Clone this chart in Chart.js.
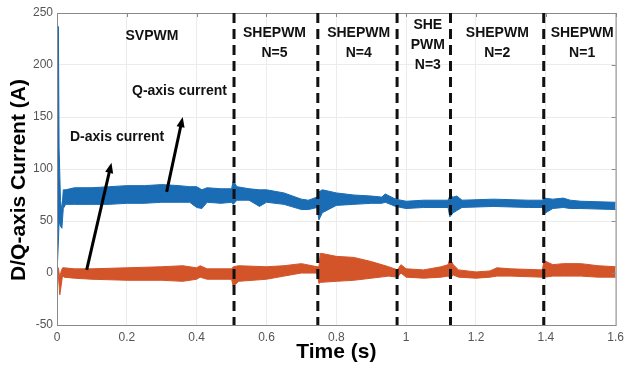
<!DOCTYPE html>
<html>
<head>
<meta charset="utf-8">
<script src="https://cdn.jsdelivr.net/npm/chart.js@4.4.1/dist/chart.umd.min.js"></script>
<style>
  body { margin: 0; background: #fff; }
  #wrap { width: 629px; height: 371px; position: relative; }
</style>
</head>
<body>
<div id="wrap"><canvas id="chart"></canvas></div>
<script>
// Q-axis current band (upper / lower envelope of the ripple), A
const timeQ  = [0, 0.004, 0.006, 0.010, 0.014, 0.018, 0.025, 0.05, 0.10, 0.15, 0.20, 0.25, 0.30, 0.35, 0.38, 0.40, 0.415, 0.43, 0.47, 0.50, 0.505, 0.515, 0.55, 0.58, 0.60, 0.65, 0.70, 0.72, 0.745, 0.75, 0.76, 0.80, 0.85, 0.90, 0.93, 0.94, 0.97, 1.00, 1.05, 1.12, 1.125, 1.135, 1.145, 1.16, 1.25, 1.35, 1.39, 1.395, 1.42, 1.45, 1.47, 1.50, 1.60];
const qUpper = [0, 237, 120, 70, 60, 80, 80, 82, 82, 83, 84, 84, 85, 84, 83, 83, 80, 82, 81, 81, 89, 83, 81, 80, 80, 77, 71, 70, 73, 78, 80, 77, 75, 74, 73, 76, 71, 69, 70, 70, 74, 73, 74, 70, 71, 70, 70, 72, 71, 72, 70, 69, 68];
const qLower = [0, 30, 50, 45, 43, 62, 66, 66, 66, 66, 67, 67, 68, 68, 68, 63, 62, 68, 67, 68, 66, 70, 70, 64, 68, 66, 61, 61, 63, 51, 58, 65, 66, 67, 67, 68, 64, 62, 63, 63, 54, 58, 60, 63, 64, 63, 63, 57, 62, 63, 62, 62, 61];

// D-axis current band, A
const timeD  = [0, 0.004, 0.008, 0.012, 0.016, 0.02, 0.05, 0.10, 0.20, 0.30, 0.36, 0.40, 0.41, 0.43, 0.50, 0.505, 0.52, 0.60, 0.65, 0.70, 0.745, 0.75, 0.755, 0.80, 0.85, 0.90, 0.95, 0.975, 0.985, 1.00, 1.05, 1.10, 1.12, 1.125, 1.135, 1.15, 1.20, 1.24, 1.26, 1.30, 1.39, 1.395, 1.42, 1.45, 1.50, 1.55, 1.60];
const dUpper = [0, 5, -5, 2, 5, 5, 4, 4, 5, 6, 7, 5, 7, 4, 4, 6, 7, 6, 7, 9, 6, 6, 19, 16, 15, 11, 6, 3, 8, 4, 3, 6, 8, 14, 8, 3, 1, 2, 5, 4, 3, 12, 8, 9, 9, 7, 6];
const dLower = [0, -3, -21, -12, -2, -4, -5, -6, -7, -7, -8, -6, -4, -6, -6, -13, -8, -6, -3, 0, 0, -10, -9, -8, -7, -5, -3, -4, 0, -4, -5, -4, -3, -5, -2, -4, -5, -4, -3, -3, -4, -4, -3, -3, -3, -4, -4];

// switching instants between modulation schemes, s
const modeBoundaries = [0.507, 0.747, 0.974, 1.127, 1.394];

const xTickLabels = ['0', '0.2', '0.4', '0.6', '0.8', '1', '1.2', '1.4', '1.6'];
const yTickLabels = ['-50', '0', '50', '100', '150', '200', '250'];

const Q_COLOR = '#1a6db4';
const D_COLOR = '#d4542a';
const FONT = '"Liberation Sans", Arial, sans-serif';

const toPoints = (xs, ys) => xs.map((x, i) => ({ x, y: ys[i] }));

// region labels: [center time, top px, lines]
const modeLabels = [
    [0.272, 36, ['SVPWM']],
    [0.623, 33, ['SHEPWM', 'N=5']],
    [0.864, 33, ['SHEPWM', 'N=4']],
    [1.062, 25, ['SHE', 'PWM', 'N=3']],
    [1.261, 33, ['SHEPWM', 'N=2']],
    [1.504, 33, ['SHEPWM', 'N=1']]
];

function arrow(ctx, x0, y0, x1, y1) {
    const ang = Math.atan2(y1 - y0, x1 - x0);
    const head = 11;
    ctx.beginPath();
    ctx.moveTo(x0, y0);
    ctx.lineTo(x1 - Math.cos(ang) * head * 0.6, y1 - Math.sin(ang) * head * 0.6);
    ctx.stroke();
    ctx.beginPath();
    ctx.moveTo(x1, y1);
    ctx.lineTo(x1 - head * Math.cos(ang - 0.38), y1 - head * Math.sin(ang - 0.38));
    ctx.lineTo(x1 - head * Math.cos(ang + 0.38), y1 - head * Math.sin(ang + 0.38));
    ctx.closePath();
    ctx.fill();
}

const overlay = {
    id: 'overlay',
    afterDatasetsDraw(chart) {
        const { ctx, chartArea: a, scales: { x, y } } = chart;
        ctx.save();

        // frame with inward ticks on top and right
        ctx.strokeStyle = '#8a8a8a';
        ctx.lineWidth = 1;
        ctx.strokeRect(a.left + 0.5, a.top + 0.5, a.right - a.left, a.bottom - a.top);
        ctx.beginPath();
        x.ticks.forEach(t => {
            const px = Math.round(x.getPixelForValue(t.value)) + 0.5;
            ctx.moveTo(px, a.top); ctx.lineTo(px, a.top + 4);
        });
        y.ticks.forEach(t => {
            const py = Math.round(y.getPixelForValue(t.value)) + 0.5;
            ctx.moveTo(a.right, py); ctx.lineTo(a.right - 4, py);
        });
        ctx.stroke();

        // switching instants
        ctx.strokeStyle = '#111';
        ctx.lineWidth = 3;
        ctx.setLineDash([10, 6]);
        modeBoundaries.forEach(t => {
            const px = x.getPixelForValue(t);
            ctx.beginPath();
            ctx.moveTo(px, a.top);
            ctx.lineTo(px, a.bottom);
            ctx.stroke();
        });
        ctx.setLineDash([]);

        // region labels
        ctx.fillStyle = '#111';
        ctx.font = 'bold 14px ' + FONT;
        ctx.textAlign = 'center';
        ctx.textBaseline = 'middle';
        modeLabels.forEach(([t, top, lines]) => {
            const px = x.getPixelForValue(t);
            lines.forEach((s, i) => ctx.fillText(s, px, top + i * 20));
        });

        // current annotations
        ctx.textAlign = 'left';
        ctx.fillText('Q-axis current', 132, 91);
        ctx.fillText('D-axis current', 70, 137);
        ctx.strokeStyle = '#000';
        ctx.fillStyle = '#000';
        ctx.lineWidth = 3;
        arrow(ctx, x.getPixelForValue(0.085), y.getPixelForValue(3),
                   x.getPixelForValue(0.156), y.getPixelForValue(106));
        arrow(ctx, x.getPixelForValue(0.314), y.getPixelForValue(78),
                   x.getPixelForValue(0.360), y.getPixelForValue(150));

        // y axis title
        ctx.translate(19, 180);
        ctx.rotate(-Math.PI / 2);
        ctx.font = 'bold 21px ' + FONT;
        ctx.textAlign = 'center';
        ctx.fillText('D/Q-axis Current (A)', 0, 0);
        ctx.restore();
    }
};

const band = (label, color, xs, hi, lo) => ([
    {
        label: label + ' max',
        data: toPoints(xs, hi),
        borderColor: color,
        borderWidth: 1,
        pointRadius: 0,
        fill: false
    },
    {
        label: label + ' min',
        data: toPoints(xs, lo),
        borderColor: color,
        borderWidth: 1,
        pointRadius: 0,
        backgroundColor: color,
        fill: '-1'
    }
]);

new Chart(document.getElementById('chart'), {
    type: 'line',
    data: {
        datasets: [
            ...band('Q-axis current', Q_COLOR, timeQ, qUpper, qLower),
            ...band('D-axis current', D_COLOR, timeD, dUpper, dLower)
        ]
    },
    options: {
        responsive: true,
        maintainAspectRatio: false,
        animation: false,
        layout: { padding: { top: 13, right: 7, bottom: 0, left: 0 } },
        plugins: {
            legend: { display: false },
            tooltip: { enabled: false }
        },
        scales: {
            x: {
                type: 'linear',
                min: 0,
                max: 1.6,
                ticks: {
                    stepSize: 0.2,
                    color: '#555',
                    padding: 5,
                    maxRotation: 0,
                    font: { family: FONT, size: 12 },
                    callback: (v, i) => xTickLabels[i]
                },
                grid: { color: '#ececec', drawTicks: false },
                border: { color: '#8a8a8a' },
                title: {
                    display: true,
                    text: 'Time (s)',
                    color: '#000',
                    padding: { top: 0, bottom: 6 },
                    font: { family: FONT, size: 21, weight: 'bold' }
                },
                afterFit: s => { s.height = 46; }
            },
            y: {
                min: -50,
                max: 250,
                ticks: {
                    stepSize: 50,
                    color: '#555',
                    padding: 4,
                    font: { family: FONT, size: 12 },
                    callback: (v, i) => yTickLabels[i]
                },
                grid: { color: '#ececec', drawTicks: false },
                border: { color: '#8a8a8a' },
                afterFit: s => { s.width = 57; }
            }
        }
    },
    plugins: [overlay]
});
</script>
</body>
</html>
